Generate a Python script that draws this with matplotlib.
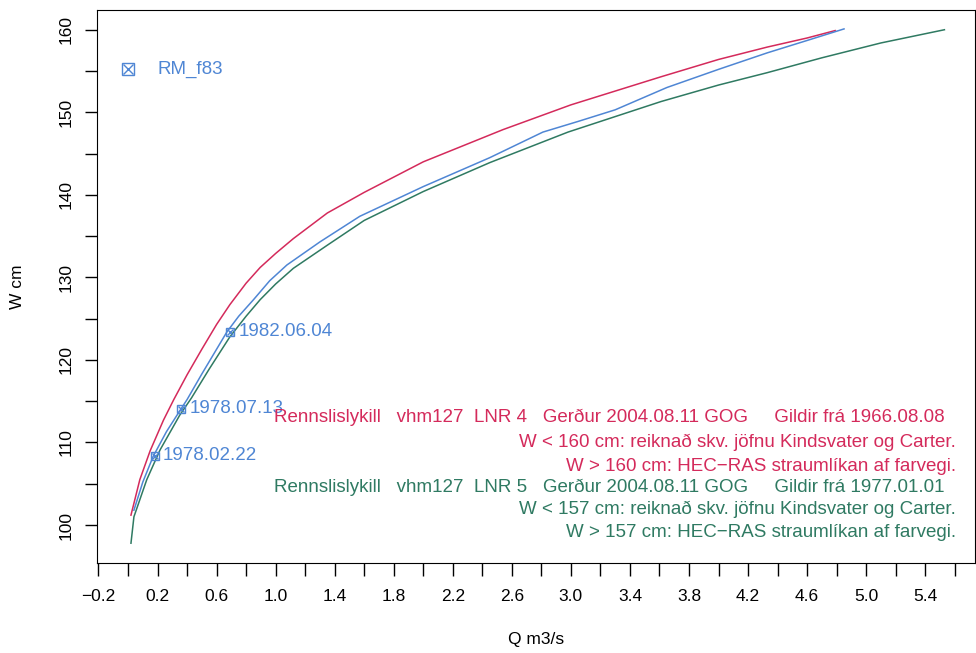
import matplotlib
matplotlib.use('Agg')
import matplotlib.pyplot as plt
import numpy as np

plt.rcParams['font.family'] = ['Liberation Sans', 'DejaVu Sans']

# Rennslislykill LNR 4 (red)
q_lnr4 = [0.02, 0.08, 0.15, 0.24, 0.31, 0.40, 0.50, 0.60, 0.69, 0.80, 0.895, 1.00, 1.12, 1.35,
          1.60, 2.00, 2.54, 3.00, 3.61, 4.00, 4.33, 4.60, 4.79]
w_lnr4 = [101.2, 105.5, 109.0, 112.7, 115.2, 118.2, 121.3, 124.3, 126.7, 129.3, 131.2, 132.9, 134.7, 137.8,
          140.3, 144.0, 147.9, 150.9, 154.3, 156.4, 157.9, 159.0, 159.9]

# Rennslislykill LNR 5 (green)
q_lnr5 = [0.02, 0.04, 0.127, 0.217, 0.35, 0.43, 0.55, 0.69, 0.80, 0.895, 1.00, 1.12, 1.35, 1.60,
          2.00, 2.45, 2.98, 3.61, 4.00, 4.33, 4.70, 5.10, 5.53]
w_lnr5 = [97.8, 101.0, 105.5, 109.1, 113.3, 115.4, 118.9, 122.8, 125.3, 127.3, 129.2, 131.1, 133.9, 136.9,
          140.4, 143.9, 147.6, 151.3, 153.3, 154.8, 156.6, 158.4, 160.0]

# RM_f83 (blue)
q_rm = [0.04, 0.10, 0.17, 0.26, 0.36, 0.40, 0.50, 0.60, 0.67, 0.75, 0.85, 0.96, 1.076, 1.30, 1.57,
        2.00, 2.45, 2.81, 3.05, 3.30, 3.65, 4.00, 4.33, 4.60, 4.85]
w_rm = [101.8, 105.2, 108.3, 111.3, 114.1, 115.2, 118.3, 121.3, 123.4, 125.3, 127.3, 129.6, 131.5, 134.3, 137.4,
        141.0, 144.5, 147.6, 148.9, 150.3, 153.0, 155.2, 157.2, 158.7, 160.1]

# measurements on RM_f83
meas_q = [0.18, 0.36, 0.69]
meas_w = [108.4, 114.1, 123.4]
meas_lab = ['1978.02.22', '1978.07.13', '1982.06.04']

red = '#d42a5b'
green = '#2f7a62'
blue = '#4f86d4'

fig = plt.figure(figsize=(9.76, 6.53), dpi=100)
ax = fig.add_axes([0.0994, 0.1378, 0.9, 0.847])

ax.plot(q_lnr4, w_lnr4, color=red, lw=1.1)
ax.plot(q_rm, w_rm, color=blue, lw=1.1)
ax.plot(q_lnr5, w_lnr5, color=green, lw=1.1)

ax.plot(meas_q, meas_w, ls='none', marker='s', ms=6, mfc='none', mec=blue, mew=1)
ax.plot(meas_q, meas_w, ls='none', marker='x', ms=5, mec=blue, mew=1)
for q, w, lab in zip(meas_q, meas_w, meas_lab):
    ax.annotate(lab, (q, w), xytext=(6, 0), textcoords='offset points',
                va='center', ha='left', color=blue, fontsize=13.5)

# legend entry
ax.plot([0.0], [155.2], ls='none', marker='s', ms=8, mfc='none', mec=blue, mew=1)
ax.plot([0.0], [155.2], ls='none', marker='x', ms=7, mec=blue, mew=1)
ax.text(0.2, 155.2, 'RM_f83', color=blue, fontsize=13.5, va='center')

red_lines = ['Rennslislykill   vhm127  LNR 4   Gerður 2004.08.11 GOG     Gildir frá 1966.08.08',
             'W < 160 cm: reiknað skv. jöfnu Kindsvater og Carter.',
             'W > 160 cm: HEC\u2212RAS straumlíkan af farvegi.']
green_lines = ['Rennslislykill   vhm127  LNR 5   Gerður 2004.08.11 GOG     Gildir frá 1977.01.01',
               'W < 157 cm: reiknað skv. jöfnu Kindsvater og Carter.',
               'W > 157 cm: HEC\u2212RAS straumlíkan af farvegi.']
red_y = [113.0, 110.0, 107.1]
green_y = [104.6, 101.9, 99.1]
right_q = [5.53, 5.61, 5.61]
for s, y, q in zip(red_lines, red_y, right_q):
    ax.text(q, y, s, color=red, fontsize=13.5, ha='right', va='center')
for s, y, q in zip(green_lines, green_y, right_q):
    ax.text(q, y, s, color=green, fontsize=13.5, ha='right', va='center')

ax.set_xlim(-0.21, 5.74)
ax.set_ylim(95.4, 162.4)

xt = np.round(np.arange(-0.2, 5.61, 0.2), 1)
ax.set_xticks(xt)
ax.set_xticklabels([f'{v:.1f}'.replace('-', '\u2212') if i % 2 == 0 else ''
                    for i, v in enumerate(xt)])
yt = np.arange(100, 161, 5)
ax.set_yticks(yt)
ax.set_yticklabels([str(v) if v % 10 == 0 else '' for v in yt], rotation=90, va='center')
ax.tick_params(direction='out', length=9, width=1, labelsize=12.5)
ax.tick_params(axis='x', pad=10)
ax.tick_params(axis='y', pad=8)

ax.set_xlabel('Q m3/s', fontsize=12.5, labelpad=20)
ax.set_ylabel('W cm', fontsize=12.5, labelpad=24)

fig.savefig('out.png', dpi=100)
